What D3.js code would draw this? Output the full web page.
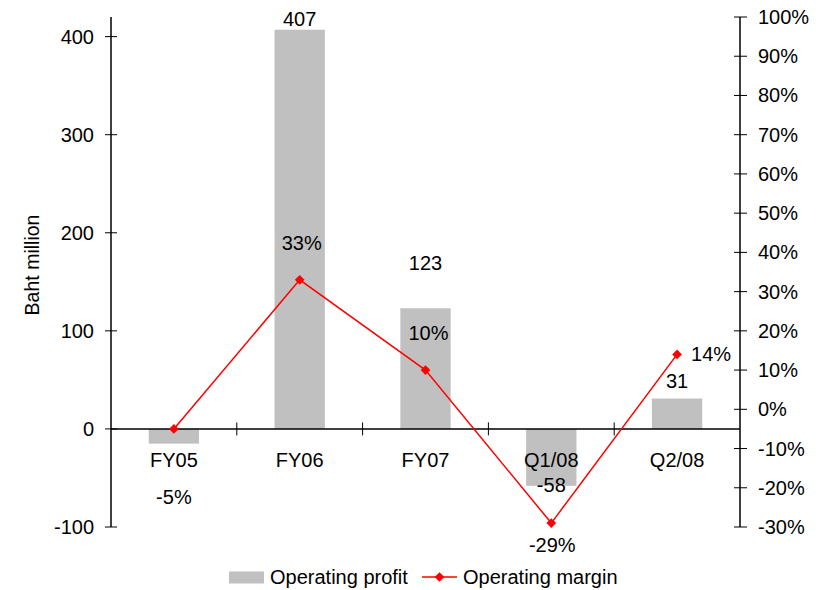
<!DOCTYPE html>
<html>
<head>
	<meta charset="utf-8">
	<title>Operating profit</title>
	<script src="https://cdnjs.cloudflare.com/ajax/libs/d3/7.8.5/d3.min.js"></script>
	<style>
		body { margin: 0; background: #fff; }
		text { font-family: "Liberation Sans", Arial, sans-serif; font-size: 20px; fill: #000; }
	</style>
</head>
<body>
<script>

	// data
	var categories = ["FY05", "FY06", "FY07", "Q1/08", "Q2/08"];
	var profit = [-15, 407, 123, -58, 31];
	var margin = [-5, 33, 10, -29, 14];
	var profitLabels = ["", "407", "123", "-58", "31"];
	var marginLabels = ["-5%", "33%", "10%", "-29%", "14%"];
	var leftTicks = [-100, 0, 100, 200, 300, 400];
	var rightTicks = [-30, -20, -10, 0, 10, 20, 30, 40, 50, 60, 70, 80, 90, 100];

	// manual label nudges (dx, dy from the mark), like the hand-placed excel labels
	var profitNudge = [[0, 0], [0, -11], [0, -45], [0, -1], [0, -18]];
	var marginNudge = [[0, 68], [2, -37], [3, -37], [1, 22], [34, 0]];

	var width = 823, height = 590;
	// note: "top" is taken by window.top, so prefix these
	var plotLeft = 111, plotRight = 740, plotTop = 17, plotBottom = 527;

	var svg = d3.select("body").append("svg")
		.attr("width", width)
		.attr("height", height);

	var x = d3.scaleBand().domain(categories).range([plotLeft, plotRight]).padding(0);
	var y = d3.scaleLinear().domain([-100, 420]).range([plotBottom, plotTop]);
	var y2 = d3.scaleLinear().domain([-30, 100]).range([plotBottom, plotTop]);

	var barW = x.bandwidth() * 0.4;
	var cx = function(d) { return x(d) + x.bandwidth() / 2; };

	// bars
	svg.selectAll("rect.bar")
		.data(profit)
		.enter().append("rect")
		.attr("class", "bar")
		.attr("x", function(d, i) { return cx(categories[i]) - barW / 2; })
		.attr("y", function(d) { return y(Math.max(0, d)); })
		.attr("width", barW)
		.attr("height", function(d) { return Math.abs(y(d) - y(0)); })
		.attr("fill", "#c0c0c0");

	// zero line with category ticks
	svg.append("line")
		.attr("x1", plotLeft).attr("x2", plotRight)
		.attr("y1", y(0)).attr("y2", y(0))
		.attr("stroke", "#000").attr("stroke-width", 1.5);

	categories.slice(1).forEach(function(c) {
		svg.append("line")
			.attr("x1", x(c)).attr("x2", x(c))
			.attr("y1", y(0) - 6.5).attr("y2", y(0) + 6.5)
			.attr("stroke", "#000").attr("stroke-width", 1);
	});

	// left axis
	svg.append("line")
		.attr("x1", plotLeft).attr("x2", plotLeft)
		.attr("y1", plotTop).attr("y2", plotBottom)
		.attr("stroke", "#000").attr("stroke-width", 1.5);

	leftTicks.forEach(function(t) {
		svg.append("line")
			.attr("x1", plotLeft - 6).attr("x2", plotLeft + 6)
			.attr("y1", y(t)).attr("y2", y(t))
			.attr("stroke", "#000").attr("stroke-width", 1);
		svg.append("text")
			.attr("x", plotLeft - 17).attr("y", y(t))
			.attr("dy", "0.35em")
			.attr("text-anchor", "end")
			.text(t);
	});

	// right axis
	svg.append("line")
		.attr("x1", plotRight).attr("x2", plotRight)
		.attr("y1", plotTop).attr("y2", plotBottom)
		.attr("stroke", "#000").attr("stroke-width", 1.5);

	rightTicks.forEach(function(t) {
		svg.append("line")
			.attr("x1", plotRight - 6).attr("x2", plotRight + 7)
			.attr("y1", y2(t)).attr("y2", y2(t))
			.attr("stroke", "#000").attr("stroke-width", 1);
		svg.append("text")
			.attr("x", plotRight + 18).attr("y", y2(t))
			.attr("dy", "0.35em")
			.text(t + "%");
	});

	// axis title
	svg.append("text")
		.attr("transform", "translate(39,265) rotate(-90)")
		.attr("text-anchor", "middle")
		.style("font-size", "19.5px")
		.text("Baht million");

	// category labels
	categories.forEach(function(c) {
		svg.append("text")
			.attr("x", cx(c)).attr("y", y(0) + 31)
			.attr("dy", "0.35em")
			.attr("text-anchor", "middle")
			.text(c);
	});

	// margin line
	var line = d3.line()
		.x(function(d, i) { return cx(categories[i]); })
		.y(function(d) { return y2(d); });

	svg.append("path")
		.datum(margin)
		.attr("d", line)
		.attr("fill", "none")
		.attr("stroke", "#ff0000")
		.attr("stroke-width", 1.5);

	var diamond = d3.symbol().type(d3.symbolDiamond2).size(60);

	svg.selectAll("path.pt")
		.data(margin)
		.enter().append("path")
		.attr("class", "pt")
		.attr("d", diamond)
		.attr("transform", function(d, i) { return "translate(" + cx(categories[i]) + "," + y2(d) + ")"; })
		.attr("fill", "#ff0000");

	// value labels
	profit.forEach(function(d, i) {
		if (!profitLabels[i]) return;
		svg.append("text")
			.attr("x", cx(categories[i]) + profitNudge[i][0])
			.attr("y", y(d) + profitNudge[i][1])
			.attr("dy", "0.35em")
			.attr("text-anchor", "middle")
			.text(profitLabels[i]);
	});

	margin.forEach(function(d, i) {
		svg.append("text")
			.attr("x", cx(categories[i]) + marginNudge[i][0])
			.attr("y", y2(d) + marginNudge[i][1])
			.attr("dy", "0.35em")
			.attr("text-anchor", "middle")
			.text(marginLabels[i]);
	});

	// legend
	var lg = svg.append("g");
	lg.append("rect")
		.attr("x", 229).attr("y", 571.5)
		.attr("width", 35).attr("height", 12)
		.attr("fill", "#c0c0c0");
	lg.append("text")
		.attr("x", 270).attr("y", 577)
		.attr("dy", "0.35em")
		.text("Operating profit");
	lg.append("line")
		.attr("x1", 422).attr("x2", 457)
		.attr("y1", 577).attr("y2", 577)
		.attr("stroke", "#ff0000").attr("stroke-width", 1.5);
	lg.append("path")
		.attr("d", diamond)
		.attr("transform", "translate(439.5,577)")
		.attr("fill", "#ff0000");
	lg.append("text")
		.attr("x", 463).attr("y", 577)
		.attr("dy", "0.35em")
		.text("Operating margin");

</script>
</body>
</html>
